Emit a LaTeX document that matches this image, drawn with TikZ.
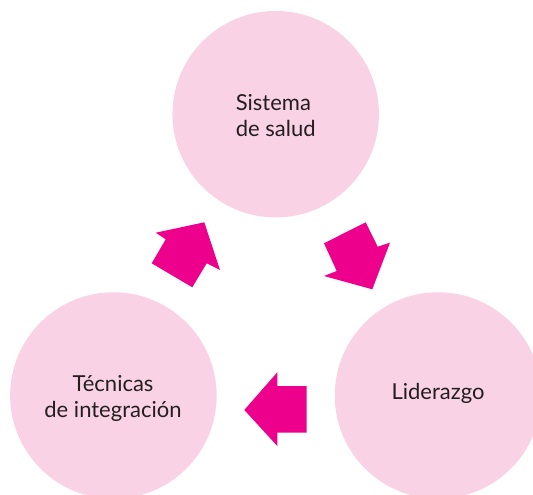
\documentclass[tikz,border=0pt]{standalone}
\usepackage{fontspec}
\setmainfont{Lato}
\definecolor{circfill}{HTML}{F9D3E5}
\definecolor{arrowfill}{HTML}{EC008C}
\definecolor{txt}{HTML}{231F20}
\begin{document}
\begin{tikzpicture}[x=1pt,y=-1pt,
  bubble/.style={circle,fill=circfill,draw=none,minimum size=206.5pt,inner sep=0pt},
  label/.style={text=txt,font=\fontsize{22}{26}\selectfont},
  blockarrow/.style={fill=arrowfill,draw=none}]
\clip (0,0) rectangle (533,495);
\useasboundingbox (0,0) rectangle (533,495);
\node[bubble] (salud) at (275.7,114.2) {};
\node[bubble] (tecnicas) at (113.4,395.5) {};
\node[bubble] (liderazgo) at (438,395.5) {};
\node[label,align=left] (tsalud) at (275.7,116) {Sistema\\de salud};
\node[label,align=center] (ttecnicas) at (113,398) {Técnicas\\de integración};
\node[label] (tliderazgo) at (438,393) {Liderazgo};
% arrow from Técnicas to Sistema de salud
\fill[blockarrow] (204.3,222.3) -- (220,270) -- (206.7,263.3) -- (192.3,287.3)
  -- (151.7,263.3) -- (165.7,239.3) -- (155.7,232.7) -- cycle;
% arrow from Sistema de salud to Liderazgo
\fill[blockarrow] (365.7,222.3) -- (377.7,246.7) -- (390,242.7) -- (372.3,289.3)
  -- (324,276) -- (336.7,271) -- (324,243.3) -- cycle;
% arrow from Liderazgo to Técnicas
\fill[blockarrow] (244.3,410) -- (277.3,372.3) -- (277.3,386) -- (306.7,386)
  -- (306.7,432.7) -- (277.3,432.7) -- (277.3,446) -- cycle;
\end{tikzpicture}
\end{document}
